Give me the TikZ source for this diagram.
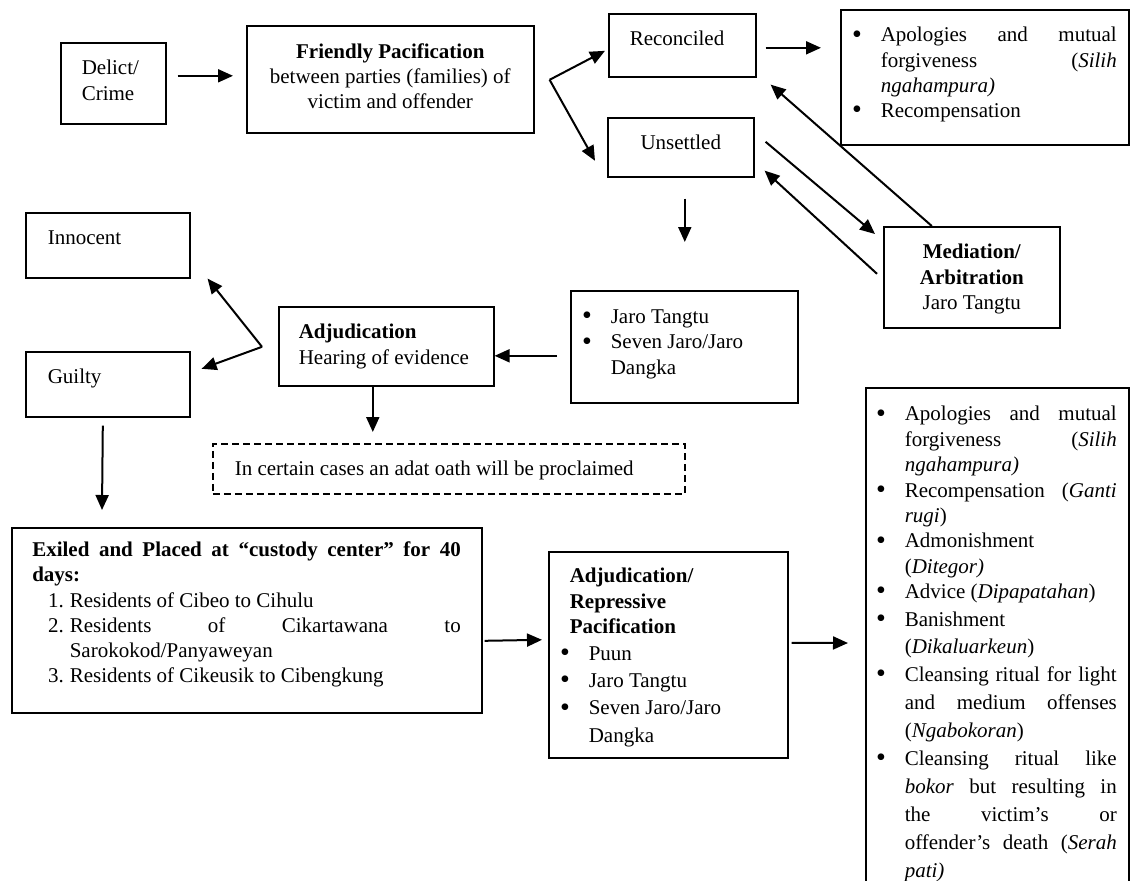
\documentclass[tikz,border=0pt]{standalone}
\usepackage{fontspec}
\setmainfont{Liberation Serif}
\usepackage{tikz}
\usetikzlibrary{arrows.meta, calc}

% text of a box: width, height, content (top aligned)
\newcommand{\bx}[3]{\parbox[c][#2][t]{#1}{#3}}
\newcommand{\dotmark}{\raisebox{-0.6pt}{\fontsize{14}{0}\selectfont\textbullet}}
\newcommand{\blt}[1][9.5pt]{\par\noindent\llap{\dotmark\hspace{#1}}}
\newcommand{\itemno}[1]{\par\noindent\llap{#1\hspace{3pt}}}
\hyphenpenalty=10000
\exhyphenpenalty=10000
\tolerance=10000
\hbadness=10000

\begin{document}
\begin{tikzpicture}[x=0.5pt, y=-0.5pt,
    box/.style={draw, line width=0.8pt, anchor=north west,
                inner xsep=0pt, inner ysep=8.8pt,
                font=\fontsize{10.5}{12.6}\selectfont},
    arr/.style={-{Triangle[length=7.5pt, width=6.5pt]}, line width=1pt}]
  \useasboundingbox (0,0) rectangle (1131,880);

  % first stage
  \node[box] (delict) at (60,42)
    {\bx{52.5pt}{22.9pt}{\leftskip=10.5pt Delict/\\Crime}};
  \node[box] (friendly) at (246,25)
    {\bx{143.5pt}{35.9pt}{\centering\textbf{Friendly Pacification}\\
      between parties (families) of\\victim and offender}};
  \node[box] (reconciled) at (608,13)
    {\bx{73.5pt}{13.9pt}{\leftskip=10.5pt Reconciled}};
  \node[box] (unsettled) at (607,117)
    {\bx{73pt}{11.9pt}{\centering Unsettled}};
  \node[box] (apology) at (840,9)
    {\bx{144pt}{49.9pt}{\leftskip=20pt\rightskip=6pt
      \blt Apologies and mutual\linebreak forgiveness (\textit{Silih}\linebreak
      \textit{ngahampura)}
      \blt Recompensation}};
  \node[box] (mediation) at (883,226)
    {\bx{88pt}{32.9pt}{\centering\textbf{Mediation/\\Arbitration}\\Jaro Tangtu}};

  % adjudication
  \node[box] (innocent) at (25,212)
    {\bx{82pt}{14.9pt}{\leftskip=11pt Innocent}};
  \node[box] (guilty) at (25,351)
    {\bx{82pt}{14.9pt}{\leftskip=11pt Guilty}};
  \node[box] (adjud) at (278,306)
    {\bx{107.5pt}{21.9pt}{\leftskip=10pt \textbf{Adjudication}\\Hearing of evidence}};
  \node[box, inner ysep=9.6pt] (jaro) at (570,290)
    {\bx{113.5pt}{36.8pt}{\leftskip=20pt
      \blt Jaro Tangtu
      \blt Seven Jaro/Jaro\\Dangka}};
  \node[box, dash pattern=on 3.5pt off 2pt] (oath) at (212,443)
    {\bx{236pt}{7.4pt}{\leftskip=11pt In certain cases an adat oath will be proclaimed}};

  % repressive stage
  \node[box, inner ysep=7pt] (exiled) at (11,527)
    {\bx{235pt}{78.5pt}{\leftskip=10.25pt\rightskip=10.5pt
      \textbf{Exiled and Placed at “custody center” for 40\linebreak days:}\par
      \leftskip=29pt
      \itemno{1.}Residents of Cibeo to Cihulu
      \itemno{2.}Residents of Cikartawana to\linebreak Sarokokod/Panyaweyan
      \itemno{3.}Residents of Cikeusik to Cibengkung}};
  \node[box, inner ysep=8.3pt] (adjrep) at (548,551)
    {\bx{119.5pt}{86.4pt}{\leftskip=10.5pt
      \textbf{Adjudication/\\Repressive\\Pacification}\par
      \leftskip=20pt\baselineskip=13.6pt
      \blt Puun
      \blt Jaro Tangtu
      \blt Seven Jaro/Jaro\\Dangka}};
  \node[box, inner ysep=9.3pt] (sanction) at (865,387)
    {\bx{131.5pt}{237.9pt}{\leftskip=19.5pt\rightskip=6pt\baselineskip=12.7pt
      \blt Apologies and mutual\linebreak forgiveness (\textit{Silih}\linebreak
      \textit{ngahampura)}
      \blt Recompensation (\textit{Ganti}\linebreak \textit{rugi})
      \blt Admonishment\\(\textit{Ditegor)}
      \blt Advice (\textit{Dipapatahan})
      \blt Banishment\\(\textit{Dikaluarkeun})
      \baselineskip=13.75pt
      \blt Cleansing ritual for light\linebreak and medium offenses\linebreak
      (\textit{Ngabokoran})
      \baselineskip=14pt
      \blt Cleansing ritual like\linebreak \textit{bokor} but resulting in\linebreak
      the victim’s or\linebreak offender’s death (\textit{Serah}\linebreak
      \textit{pati)}}};

  % connectors
  \draw[arr] ([shift={(11,-7.5)}]delict.east) -- ([shift={(-13,-3.5)}]friendly.west);
  \coordinate (fork) at ([shift={(15,0.5)}]friendly.east);
  \draw[arr] (fork) -- ([shift={(-3,5.5)}]reconciled.west);
  \draw[arr] (fork) -- ([shift={(-12,13.5)}]unsettled.west);
  \draw[arr] ([shift={(9,2.5)}]reconciled.east) -- ([shift={(-19,-29.5)}]apology.west);
  \draw[arr] ([shift={(11,-5.5)}]unsettled.east) -- ([shift={(-8,8)}]mediation.north west);
  \draw[arr] ([shift={(-6,-3.5)}]mediation.west) -- ([shift={(10,-7)}]unsettled.south east);
  \draw[arr] ([shift={(-40,0)}]mediation.north) -- ([shift={(14,7)}]reconciled.south east);
  \draw[arr] ([shift={(4,21)}]unsettled.south) -- ([shift={(0.5,-48)}]jaro.north);
  \draw[arr] ([shift={(-13,9)}]jaro.west) -- ([shift={(0,9.5)}]adjud.east);
  \coordinate (verdict) at ([shift={(-16,0.5)}]adjud.west);
  \draw[arr] (verdict) -- ([shift={(17,0)}]innocent.south east);
  \draw[arr] (verdict) -- ([shift={(11,-15.5)}]guilty.east);
  \draw[arr] ([shift={(-13.5,0)}]adjud.south) -- ([shift={(-76,-11)}]oath.north);
  \draw[arr] ([shift={(-5,8)}]guilty.south) -- ([shift={(91,-17)}]exiled.north west);
  \draw[arr] ([shift={(2,20.5)}]exiled.east) -- ([shift={(-6,-15)}]adjrep.west);
  \draw[arr] ([shift={(3,-12)}]adjrep.east) -- ([shift={(-17,256)}]sanction.north west);
\end{tikzpicture}
\end{document}
